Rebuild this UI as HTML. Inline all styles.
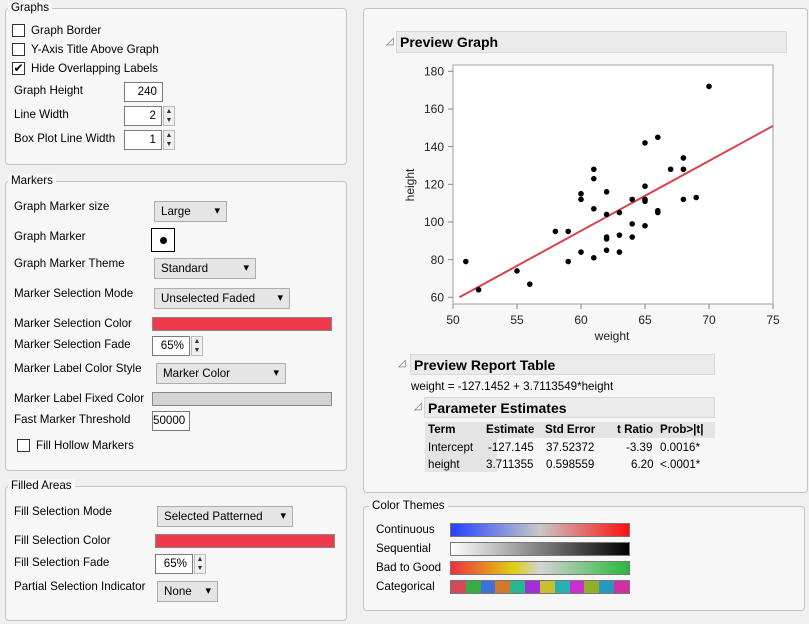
<!DOCTYPE html>
<html><head><style>
*{box-sizing:border-box}
body{margin:0;width:809px;height:624px;background:#f0f0f0;font-family:"Liberation Sans",sans-serif;font-size:11.6px;color:#000;position:relative;overflow:hidden}
.a{position:absolute;white-space:nowrap}
.grp{position:absolute;border:1px solid #c4c4c4;border-radius:4px;background:#f7f7f7}
.gt{position:absolute;background:#f7f7f7;padding:0 3px;font-size:11.6px}
.cb{position:absolute;width:13px;height:13px;border:1px solid #333;background:#fff}
.tb{position:absolute;background:#fff;border:1px solid #7a7a7a;text-align:right;padding-right:5px;line-height:18px;height:20px}
.sp{position:absolute;width:12px;height:20px;border:1px solid #bbb;background:#f0f0f0;font-size:7px;line-height:9px;text-align:center;color:#333}
.dd{position:absolute;height:21px;border:1px solid #adadad;background:#e5e5e5;padding-left:6px;line-height:19px}
.dd:after{content:"▾";position:absolute;right:6px;top:0;font-size:11px}
.hdr{position:absolute;background:#ebebeb;border:1px solid #d8d8d8;font-weight:bold;font-size:14px;padding-left:3px;line-height:20px}
.tri{position:absolute;font-size:10px;color:#666}
</style></head><body>

<div class="grp" style="left:5px;top:8px;width:342px;height:157px"></div>
<div class="gt" style="left:8px;top:1px">Graphs</div>
<div class="cb" style="left:12px;top:24px"></div><div class="a" style="left:31px;top:24px">Graph Border</div>
<div class="cb" style="left:12px;top:43px"></div><div class="a" style="left:31px;top:43px">Y-Axis Title Above Graph</div>
<div class="cb" style="left:12px;top:62px;font-size:12px;line-height:11px;text-align:center">✔</div><div class="a" style="left:31px;top:62px">Hide Overlapping Labels</div>
<div class="a" style="left:14px;top:84px">Graph Height</div><div class="tb" style="left:124px;top:82px;width:39px">240</div>
<div class="a" style="left:14px;top:108px">Line Width</div><div class="tb" style="left:124px;top:106px;width:38px">2</div><div class="sp" style="left:163px;top:106px">▲<br>▼</div>
<div class="a" style="left:14px;top:132px">Box Plot Line Width</div><div class="tb" style="left:124px;top:130px;width:38px">1</div><div class="sp" style="left:163px;top:130px">▲<br>▼</div>

<div class="grp" style="left:5px;top:181px;width:342px;height:290px"></div>
<div class="gt" style="left:8px;top:174px">Markers</div>
<div class="a" style="left:14px;top:200px">Graph Marker size</div><div class="dd" style="left:154px;top:201px;width:73px">Large</div>
<div class="a" style="left:14px;top:230px">Graph Marker</div>
<div class="a" style="left:151px;top:228px;width:24px;height:24px;border:1px solid #000;background:#fff"><div class="a" style="left:8px;top:8px;width:7px;height:7px;border-radius:50%;background:#000"></div></div>
<div class="a" style="left:14px;top:257px">Graph Marker Theme</div><div class="dd" style="left:154px;top:258px;width:102px">Standard</div>
<div class="a" style="left:14px;top:287px">Marker Selection Mode</div><div class="dd" style="left:154px;top:288px;width:136px">Unselected Faded</div>
<div class="a" style="left:14px;top:317px">Marker Selection Color</div><div class="a" style="left:152px;top:317px;width:180px;height:14px;background:#ee3a4c;border:1px solid #888"></div>
<div class="a" style="left:14px;top:338px">Marker Selection Fade</div><div class="tb" style="left:152px;top:336px;width:38px">65%</div><div class="sp" style="left:191px;top:336px">▲<br>▼</div>
<div class="a" style="left:14px;top:362px">Marker Label Color Style</div><div class="dd" style="left:156px;top:363px;width:130px">Marker Color</div>
<div class="a" style="left:14px;top:392px">Marker Label Fixed Color</div><div class="a" style="left:152px;top:392px;width:180px;height:14px;background:#d4d4d4;border:1px solid #888"></div>
<div class="a" style="left:14px;top:413px">Fast Marker Threshold</div><div class="tb" style="left:152px;top:411px;width:38px">50000</div>
<div class="cb" style="left:17px;top:439px"></div><div class="a" style="left:36px;top:439px">Fill Hollow Markers</div>

<div class="grp" style="left:5px;top:486px;width:342px;height:135px"></div>
<div class="gt" style="left:8px;top:479px">Filled Areas</div>
<div class="a" style="left:14px;top:505px">Fill Selection Mode</div><div class="dd" style="left:157px;top:506px;width:136px">Selected Patterned</div>
<div class="a" style="left:14px;top:534px">Fill Selection Color</div><div class="a" style="left:155px;top:534px;width:180px;height:14px;background:#ee3a4c;border:1px solid #888"></div>
<div class="a" style="left:14px;top:556px">Fill Selection Fade</div><div class="tb" style="left:155px;top:554px;width:38px">65%</div><div class="sp" style="left:194px;top:554px">▲<br>▼</div>
<div class="a" style="left:14px;top:580px">Partial Selection Indicator</div><div class="dd" style="left:157px;top:581px;width:61px">None</div>

<div class="grp" style="left:363px;top:8px;width:445px;height:485px"></div>
<div class="tri" style="left:386px;top:36px">◿</div>
<div class="hdr" style="left:396px;top:31px;width:391px;height:22px">Preview Graph</div>
<svg class="a" style="left:400px;top:60px" width="390" height="290">
<rect x="53" y="5" width="320" height="239" fill="#fff" stroke="#a0a0a0"/>
<g font-family="Liberation Sans" font-size="12" fill="#222">
<g text-anchor="end">
<text x="44" y="15.5">180</text><text x="44" y="53.2">160</text><text x="44" y="90.9">140</text><text x="44" y="128.5">120</text><text x="44" y="166.2">100</text><text x="44" y="203.8">80</text><text x="44" y="241.5">60</text></g>
<g stroke="#888"><line x1="48" x2="53" y1="11.3" y2="11.3"/><line x1="48" x2="53" y1="49" y2="49"/><line x1="48" x2="53" y1="86.6" y2="86.6"/><line x1="48" x2="53" y1="124.3" y2="124.3"/><line x1="48" x2="53" y1="162" y2="162"/><line x1="48" x2="53" y1="199.6" y2="199.6"/><line x1="48" x2="53" y1="237.3" y2="237.3"/>
<line x1="53" x2="53" y1="244" y2="249"/><line x1="117" x2="117" y1="244" y2="249"/><line x1="181" x2="181" y1="244" y2="249"/><line x1="245" x2="245" y1="244" y2="249"/><line x1="309" x2="309" y1="244" y2="249"/><line x1="373" x2="373" y1="244" y2="249"/></g>
<g text-anchor="middle"><text x="53" y="264">50</text><text x="117" y="264">55</text><text x="181" y="264">60</text><text x="245" y="264">65</text><text x="309" y="264">70</text><text x="373" y="264">75</text>
<text x="212" y="280">weight</text>
<text transform="translate(14,125) rotate(-90)">height</text></g></g>
<line x1="59.4" y1="237.3" x2="373" y2="65.9" stroke="#d94452" stroke-width="2"/>
<g fill="#000" id="pts"></g>
</svg>
<script>
var p=[[51,79],[52,64],[55,74],[56,67],[58,95],[59,95],[59,79],[60,115],[60,112],[60,84],[61,128],[61,123],[61,107],[61,81],[62,116],[62,104],[62,92],[62,91],[62,85],[63,105],[63,93],[63,84],[64,112],[64,99],[64,92],[65,142],[65,119],[65,112],[65,111],[65,98],[66,145],[66,106],[66,105],[67,128],[68,134],[68,128],[68,112],[69,113],[70,172]],s='';
p.forEach(function(q){s+='<circle cx="'+(53+(q[0]-50)*12.8)+'" cy="'+(237.3-(q[1]-60)*1.883)+'" r="2.8"/>'});
document.getElementById('pts').innerHTML=s;
</script>
<div class="tri" style="left:398px;top:358px">◿</div>
<div class="hdr" style="left:410px;top:354px;width:305px;height:21px">Preview Report Table</div>
<div class="a" style="left:411px;top:380px">weight = -127.1452 + 3.7113549*height</div>
<div class="tri" style="left:414px;top:401px">◿</div>
<div class="hdr" style="left:424px;top:397px;width:291px;height:21px">Parameter Estimates</div>
<div class="a" style="left:425px;top:422px;width:72px;height:50px;background:#e4e4e4"></div>
<div class="a" style="left:479px;top:422px;width:236px;height:16px;background:#e4e4e4"></div>
<div class="a" style="left:428px;top:423px;font-weight:bold">Term</div>
<div class="a" style="left:486px;top:423px;font-weight:bold">Estimate</div>
<div class="a" style="left:545px;top:423px;font-weight:bold">Std Error</div>
<div class="a" style="left:617px;top:423px;font-weight:bold">t Ratio</div>
<div class="a" style="left:660px;top:423px;font-weight:bold">Prob&gt;|t|</div>
<div class="a" style="left:428px;top:441px">Intercept</div><div class="a" style="left:488px;top:441px">-127.145</div><div class="a" style="left:546px;top:441px">37.52372</div><div class="a" style="left:626px;top:441px">-3.39</div><div class="a" style="left:660px;top:441px">0.0016*</div>
<div class="a" style="left:428px;top:458px">height</div><div class="a" style="left:486px;top:458px">3.711355</div><div class="a" style="left:546px;top:458px">0.598559</div><div class="a" style="left:631px;top:458px">6.20</div><div class="a" style="left:660px;top:458px">&lt;.0001*</div>

<div class="grp" style="left:363px;top:506px;width:442px;height:105px"></div>
<div class="gt" style="left:369px;top:499px">Color Themes</div>
<div class="a" style="left:376px;top:523px">Continuous</div>
<div class="a" style="left:450px;top:523px;width:180px;height:14px;border:1px solid #777;background:linear-gradient(90deg,#2441ff,#c8c8c8 50%,#ff1010)"></div>
<div class="a" style="left:376px;top:542px">Sequential</div>
<div class="a" style="left:450px;top:542px;width:180px;height:14px;border:1px solid #777;background:linear-gradient(90deg,#fff,#000)"></div>
<div class="a" style="left:376px;top:561px">Bad to Good</div>
<div class="a" style="left:450px;top:561px;width:180px;height:14px;border:1px solid #777;background:linear-gradient(90deg,#f03040,#e0d010 35%,#d4d4d4 50%,#29b83a)"></div>
<div class="a" style="left:376px;top:580px">Categorical</div>
<div class="a" style="left:450px;top:580px;width:180px;height:14px;border:1px solid #777;display:flex">
<div style="flex:1;background:#d44a5a"></div><div style="flex:1;background:#3aaa45"></div><div style="flex:1;background:#4070d8"></div><div style="flex:1;background:#d07a2a"></div><div style="flex:1;background:#28b890"></div><div style="flex:1;background:#a030d8"></div><div style="flex:1;background:#c8c030"></div><div style="flex:1;background:#28b0b0"></div><div style="flex:1;background:#c830d0"></div><div style="flex:1;background:#90b028"></div><div style="flex:1;background:#2898c0"></div><div style="flex:1;background:#d030a0"></div></div>
</body></html>
